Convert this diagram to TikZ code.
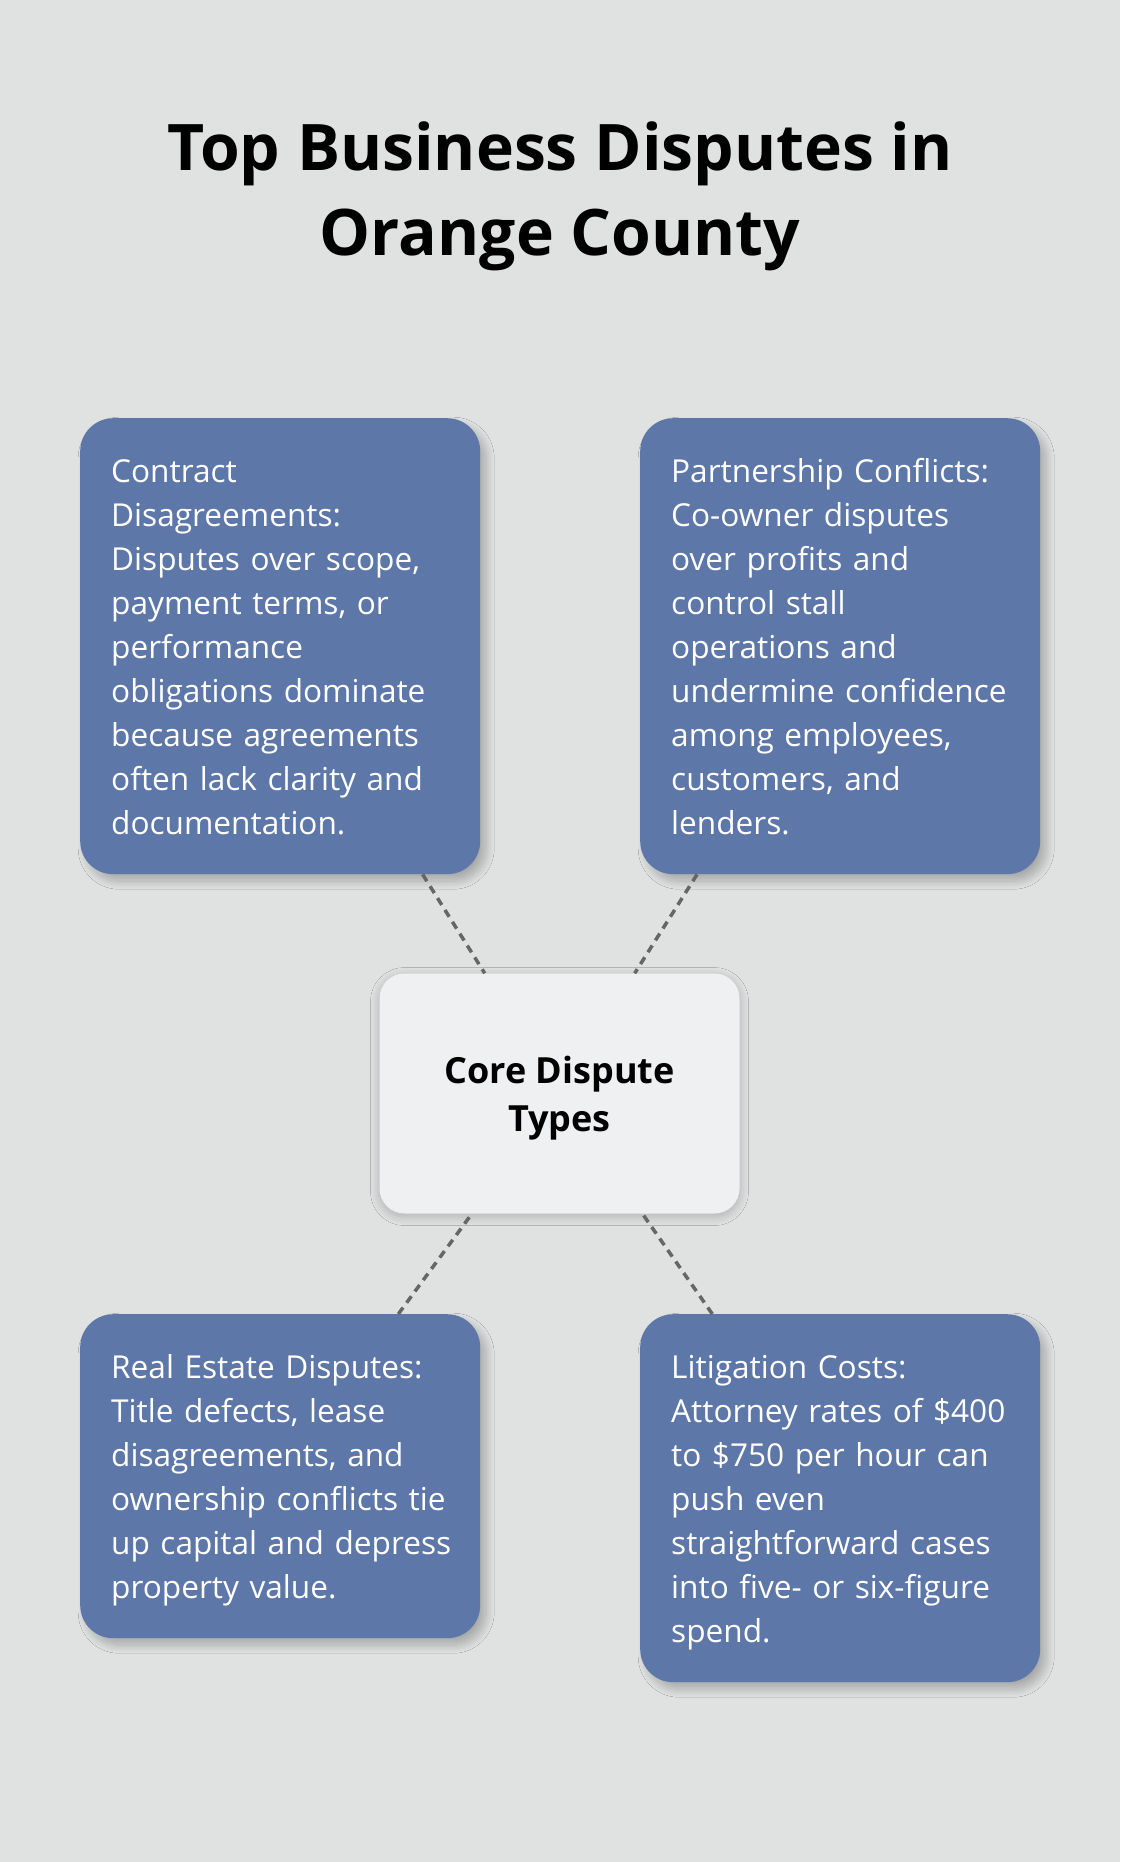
\documentclass[tikz,border=0pt]{standalone}
\usepackage{fontspec}
\setmainfont{Open Sans}
\usepackage{tikz}
\usetikzlibrary{shadows.blur}
\definecolor{bgcol}{HTML}{E0E2E1}
\definecolor{cardblue}{HTML}{5D77A8}
\definecolor{corefill}{HTML}{EFF0F2}
\definecolor{linkgray}{HTML}{666666}
\newcommand{\cardstrut}{\rule[-9.7pt]{0pt}{44pt}}
\newcommand{\corestrut}{\rule[-10pt]{0pt}{48pt}}
\newcommand{\titlestrut}{\rule[-17.7pt]{0pt}{85pt}}
\tikzset{
	card/.style={draw=none,fill=cardblue,rounded corners=33pt,text=white,
		minimum width=400pt,text width=338pt,inner xsep=31pt,inner ysep=30pt,
		align=left,anchor=north west,font=\fontsize{31.6}{44}\selectfont,
		blur shadow={shadow xshift=6pt,shadow yshift=-7pt,shadow blur radius=8pt,shadow blur steps=16,shadow opacity=25}},
	core/.style={draw=none,fill=corefill,rounded corners=25pt,text=black,
		minimum width=360pt,minimum height=240pt,align=center,
		font=\bfseries\fontsize{36}{48}\selectfont,
		blur shadow={shadow xshift=0pt,shadow yshift=-3pt,shadow blur radius=9pt,shadow blur steps=16,shadow opacity=22}},
	link/.style={draw=linkgray,line width=3.5pt,dash pattern=on 8pt off 6pt}
}

\begin{document}
\begin{tikzpicture}[x = {(1pt,0pt)},
                    y = {(0pt,-1pt)}]

\fill[bgcol] (0,0) rectangle (1120,1862);
\useasboundingbox (0,0) rectangle (1120,1862);

\node[font=\bfseries\fontsize{64.2}{85}\selectfont,align=center,inner sep=0pt] (title) at (560,187.7)
	{\titlestrut Top Business Disputes in\\Orange County\titlestrut};

\node[card] (contract) at (80,418) {\cardstrut Contract\\Disagreements:\\Disputes over scope,\\payment terms, or\\performance\\obligations dominate\\because agreements\\often lack clarity and\\documentation.\cardstrut};
\node[card] (partner) at (640,418) {\cardstrut Partnership Conflicts:\\Co-owner disputes\\over profits and\\control stall\\operations and\\undermine confidence\\among employees,\\customers, and\\lenders.\cardstrut};
\node[card] (estate) at (80,1314) {\cardstrut Real Estate Disputes:\\Title defects, lease\\disagreements, and\\\mbox{ownership conflicts tie}\\\mbox{up capital and depress}\\property value.\cardstrut};
\node[card] (costs) at (640,1314) {\cardstrut Litigation Costs:\\Attorney rates of \$400\\to \$750 per hour can\\push even\\straightforward cases\\into five- or six-figure\\spend.\cardstrut};

\node[core] (core) at (559.5,1093.5) {\corestrut Core Dispute\\Types\corestrut};

\draw[link] (contract) -- (core);
\draw[link] (partner) -- (core);
\draw[link] (estate) -- (core);
\draw[link] (costs) -- (core);

\end{tikzpicture}
\end{document}
